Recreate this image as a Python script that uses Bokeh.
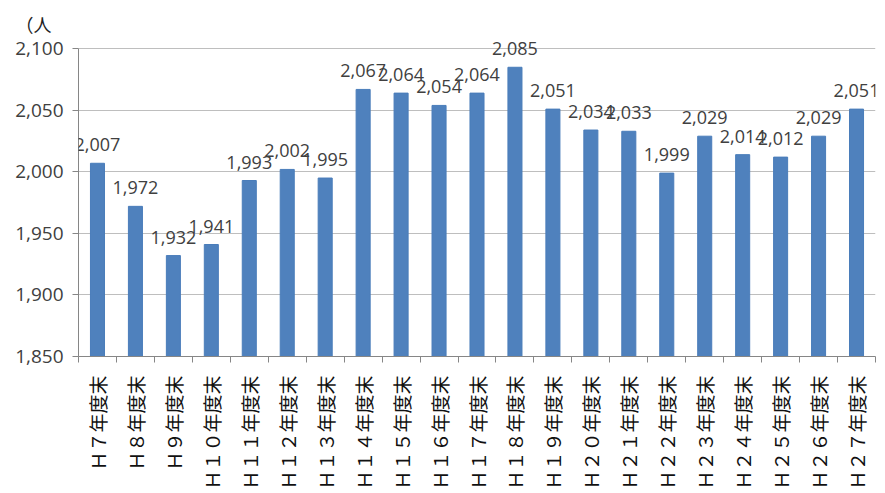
import numpy as np
from bokeh.plotting import figure
from bokeh.core.properties import value
from bokeh.models import (ColumnDataSource, LabelSet, Title, FixedTicker,
                          NumeralTickFormatter, SingleIntervalTicker, Range1d)
from bokeh.embed import file_html
from bokeh.resources import INLINE

categories = ["Ｈ７年度末", "Ｈ８年度末", "Ｈ９年度末", "Ｈ１０年度末", "Ｈ１１年度末",
              "Ｈ１２年度末", "Ｈ１３年度末", "Ｈ１４年度末", "Ｈ１５年度末", "Ｈ１６年度末",
              "Ｈ１７年度末", "Ｈ１８年度末", "Ｈ１９年度末", "Ｈ２０年度末", "Ｈ２１年度末",
              "Ｈ２２年度末", "Ｈ２３年度末", "Ｈ２４年度末", "Ｈ２５年度末", "Ｈ２６年度末",
              "Ｈ２７年度末"]
population = [2007, 1972, 1932, 1941, 1993, 2002, 1995, 2067, 2064, 2054,
              2064, 2085, 2051, 2034, 2033, 1999, 2029, 2014, 2012, 2029, 2051]
y_min, y_max, y_step = 1850, 2100, 50
unit_label = "（人"

# headroom above the top gridline so the highest data label is not clipped
px_per_unit = 308 / (y_max - y_min)
head_units = 10
y_view_max = y_max + head_units
frame_h = round((y_view_max - y_min) * px_per_unit)

xs = list(range(len(categories)))
src = ColumnDataSource(dict(x=xs, top=population,
                            label=[f"{v:,}" for v in population]))

p = figure(frame_width=797, frame_height=frame_h,
           x_range=Range1d(-0.5, len(categories) - 0.5),
           y_range=Range1d(y_min, y_view_max),
           output_backend="svg", toolbar_location=None,
           min_border_left=78, min_border_right=4,
           min_border_top=48 - (frame_h - 308), min_border_bottom=134)
p.outline_line_color = None
p.background_fill_color = "white"

p.add_layout(Title(text=unit_label, align="left", offset=-63,
                   text_font="Noto Sans CJK JP", text_font_size="18px",
                   text_font_style="normal", text_color="#222222",
                   standoff=0), "above")

p.vbar(x="x", top="top", bottom=y_min, width=0.37, source=src,
       fill_color="#4F81BD", line_color="#4A7DBA", line_width=1)

p.add_layout(LabelSet(x="x", y="top", text="label", source=src,
                      text_align="center", text_baseline="alphabetic",
                      y_offset=12, text_font=value("Open Sans"),
                      text_font_size=value("18px"), text_color="#404040"))

# x axis
xa = p.xaxis[0]
xa.ticker = FixedTicker(ticks=xs, minor_ticks=[i - 0.5 for i in range(len(categories) + 1)])
xa.major_label_overrides = {i: c for i, c in enumerate(categories)}
xa.major_label_orientation = np.pi / 2
xa.major_tick_line_color = None
xa.major_tick_out = 0
xa.major_tick_in = 0
xa.minor_tick_out = 6
xa.minor_tick_in = 0
xa.minor_tick_line_color = "#868686"
xa.axis_line_color = "#868686"
xa.major_label_standoff = 13
xa.major_label_text_font = "Noto Sans CJK JP"
xa.major_label_text_font_size = "19px"
xa.major_label_text_color = "#111111"

# y axis
ya = p.yaxis[0]
ya.bounds = (y_min, y_max)
ya.ticker = SingleIntervalTicker(interval=y_step, num_minor_ticks=0)
ya.formatter = NumeralTickFormatter(format="0,0")
ya.major_tick_out = 6
ya.major_tick_in = 0
ya.major_tick_line_color = "#868686"
ya.minor_tick_line_color = None
ya.axis_line_color = "#868686"
ya.major_label_standoff = 9
ya.major_label_text_font = "Open Sans"
ya.major_label_text_font_size = "19px"
ya.major_label_text_color = "#404040"

p.xgrid.grid_line_color = None
p.ygrid.grid_line_color = "#BEBEBE"
p.ygrid.bounds = (y_min, y_max)
p.ygrid.ticker = SingleIntervalTicker(interval=y_step, num_minor_ticks=0)

open("out.html", "w").write(file_html(p, INLINE))
